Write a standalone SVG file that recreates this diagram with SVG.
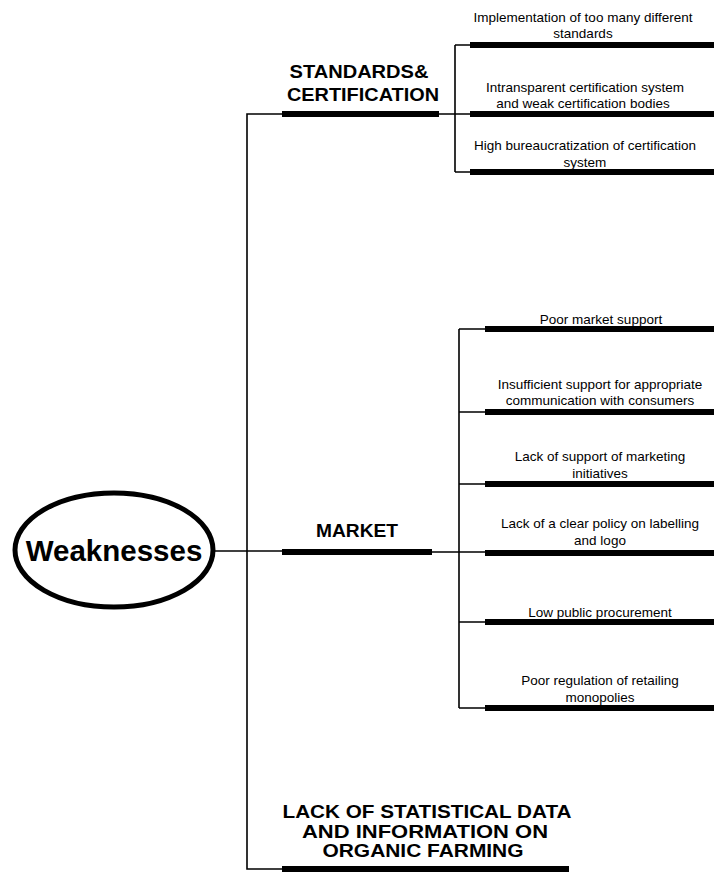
<svg xmlns="http://www.w3.org/2000/svg" width="714" height="873" viewBox="0 0 714 873">
<style>
.thin{stroke:#000;stroke-width:1.6;fill:none}
.bar{stroke:#000;stroke-width:6;fill:none}
.cat{font-family:"Liberation Sans",Arial,sans-serif;font-weight:bold;font-size:18.5px;fill:#000;text-anchor:middle}
.item{font-family:"Liberation Sans",Arial,sans-serif;font-size:13.5px;fill:#000;text-anchor:middle}
</style>
<rect width="714" height="873" fill="#fff"/>
<g id="connectors">
<path class="thin" d="M213,551 H282"/>
<path class="thin" d="M282,114 H247 V869 H282"/>
<path class="thin" d="M439,114 H470 M455,45 V172 M455,45 H470 M455,172 H470"/>
<path class="thin" d="M432,552 H485 M459,329 V708 M459,329 H485 M459,412 H485 M459,484 H485 M459,622 H485 M459,708 H485"/>
</g>
<g id="weaknesses">
<ellipse cx="114" cy="550" rx="99" ry="57" fill="#fff" stroke="#000" stroke-width="5"/>
<text x="114" y="561" font-family="'Liberation Sans',Arial,sans-serif" font-weight="bold" font-size="29.5" text-anchor="middle">Weaknesses</text>
</g>
<g id="standards">
<path class="bar" d="M282,114 H439"/>
<text class="cat" x="359" y="78" textLength="139" lengthAdjust="spacingAndGlyphs">STANDARDS&amp;</text>
<text class="cat" x="363" y="101" textLength="152" lengthAdjust="spacingAndGlyphs">CERTIFICATION</text>
</g>
<g id="std1">
<path class="bar" d="M470,45 H714"/>
<text class="item" x="583" y="22">Implementation of too many different</text>
<text class="item" x="583" y="38">standards</text>
</g>
<g id="std2">
<path class="bar" d="M470,114 H714"/>
<text class="item" x="585" y="92">Intransparent certification system</text>
<text class="item" x="583" y="108">and weak certification bodies</text>
</g>
<g id="std3">
<path class="bar" d="M470,172 H714"/>
<text class="item" x="585" y="150">High bureaucratization of certification</text>
<text class="item" x="585" y="167">system</text>
</g>
<g id="market">
<path class="bar" d="M282,552 H432"/>
<text class="cat" x="357" y="537" textLength="82" lengthAdjust="spacingAndGlyphs">MARKET</text>
</g>
<g id="mk1">
<path class="bar" d="M485,329 H714"/>
<text class="item" x="601" y="324">Poor market support</text>
</g>
<g id="mk2">
<path class="bar" d="M485,412 H714"/>
<text class="item" x="600" y="389">Insufficient support for appropriate</text>
<text class="item" x="600" y="405">communication with consumers</text>
</g>
<g id="mk3">
<path class="bar" d="M485,484 H714"/>
<text class="item" x="600" y="461">Lack of support of marketing</text>
<text class="item" x="600" y="478">initiatives</text>
</g>
<g id="mk4">
<path class="bar" d="M485,553 H714"/>
<text class="item" x="600" y="528">Lack of a clear policy on labelling</text>
<text class="item" x="600" y="545">and logo</text>
</g>
<g id="mk5">
<path class="bar" d="M485,622 H714"/>
<text class="item" x="600" y="617">Low public procurement</text>
</g>
<g id="mk6">
<path class="bar" d="M485,708 H714"/>
<text class="item" x="600" y="685">Poor regulation of retailing</text>
<text class="item" x="600" y="702">monopolies</text>
</g>
<g id="lack">
<path class="bar" d="M282,869 H569"/>
<text class="cat" x="427" y="818" font-size="17.5" textLength="289" lengthAdjust="spacingAndGlyphs">LACK OF STATISTICAL DATA</text>
<text class="cat" x="425" y="838" font-size="17.5" textLength="246" lengthAdjust="spacingAndGlyphs">AND INFORMATION ON</text>
<text class="cat" x="423" y="857" font-size="17.5" textLength="201" lengthAdjust="spacingAndGlyphs">ORGANIC FARMING</text>
</g>
</svg>
